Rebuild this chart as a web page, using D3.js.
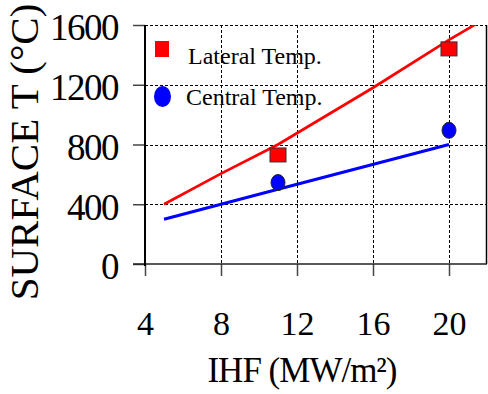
<script src='https://d3js.org/d3.v7.min.js'></script>
<style>
body {margin:0; background:#fff;}
text {font-family:'Liberation Serif','Times New Roman',serif; fill:#000;}
.grid line {stroke:#000; stroke-width:1; stroke-dasharray:3,2; shape-rendering:crispEdges;}
.tick line {stroke:#444; stroke-width:1.5;}
</style>
<body>
<svg id='chart' width='488' height='394'></svg>
<script>
var xTicks=[4,8,12,16,20], yTicks=[0,400,800,1200,1600];
var lateralX=[11,20], lateralY=[730,1440];
var centralX=[11,20], centralY=[545,895];
var lateralFitX=[5,8,11,16,20,21.8], lateralFitY=[400,605,800,1180,1500,1635];
var centralFitX=[5,11,20], centralFitY=[300,500,800];
var seriesNames=['Lateral Temp.','Central Temp.'];

var serif="'Liberation Serif','Times New Roman',serif";
var m={top:25,right:1,bottom:130,left:145};
var w=488-m.left-m.right, h=394-m.top-m.bottom;
var x=d3.scaleLinear().domain([4,22]).range([0,w]);
var y=d3.scaleLinear().domain([0,1600]).range([h,0]);
var svg=d3.select('#chart').append('g').attr('transform','translate('+m.left+','+m.top+')');

svg.append('defs').append('clipPath').attr('id','clip').append('rect').attr('width',w).attr('height',h);

// dashed grid
var grid=svg.append('g').attr('class','grid');
grid.selectAll('.gx').data(xTicks.slice(1)).enter().append('line')
    .attr('x1',function(d){return Math.round(x(d))+0.5}).attr('x2',function(d){return Math.round(x(d))+0.5})
    .attr('y1',0).attr('y2',h);
grid.selectAll('.gy').data(yTicks.slice(1)).enter().append('line')
    .attr('y1',function(d){return Math.round(y(d))+0.5}).attr('y2',function(d){return Math.round(y(d))+0.5})
    .attr('x1',0).attr('x2',w);

// frame: right solid
svg.append('line').attr('x1',w-0.5).attr('x2',w-0.5).attr('y1',0).attr('y2',h).attr('stroke','#000').attr('stroke-width',1.5);

// axes
var xAxis=svg.append('g').attr('class','tick').attr('transform','translate(0,'+h+')')
  .call(d3.axisBottom(x).tickValues(xTicks).tickFormat(d3.format('d')).tickSize(12).tickPadding(35));
xAxis.select('.domain').remove();
xAxis.selectAll('text').style('font-family',serif).style('font-size','34px').attr('fill','#000');
var yAxis=svg.append('g').attr('class','tick')
  .call(d3.axisLeft(y).tickValues(yTicks).tickFormat(d3.format('d')).tickSize(12).tickPadding(15));
yAxis.select('.domain').remove();
yAxis.selectAll('text').style('font-family',serif).style('font-size','37px').style('letter-spacing','-1.5px')
  .attr('fill','#000').attr('dy','0.4em');
svg.append('line').attr('x1',-12).attr('x2',w).attr('y1',h).attr('y2',h).attr('stroke','#222').attr('stroke-width',1.5);
svg.append('line').attr('x1',0).attr('x2',0).attr('y1',0).attr('y2',h+2).attr('stroke','#000').attr('stroke-width',2);

// fit lines
var line=d3.line().x(function(d){return x(d[0])}).y(function(d){return y(d[1])});
var plot=svg.append('g').attr('clip-path','url(#clip)');
plot.append('path').datum(d3.zip(lateralFitX,lateralFitY)).attr('d',line)
    .attr('fill','none').attr('stroke','#ff0000').attr('stroke-width',2.7);
plot.append('path').datum(d3.zip(centralFitX,centralFitY)).attr('d',line)
    .attr('fill','none').attr('stroke','#0000ff').attr('stroke-width',3);

// data markers
svg.selectAll('.sq').data(d3.zip(lateralX,lateralY)).enter().append('rect')
   .attr('x',function(d){return x(d[0])-8}).attr('y',function(d){return y(d[1])-7})
   .attr('width',16).attr('height',14).attr('fill','#ff0000').attr('stroke','#333').attr('stroke-width',1);
svg.selectAll('.ci').data(d3.zip(centralX,centralY)).enter().append('ellipse')
   .attr('cx',function(d){return x(d[0])}).attr('cy',function(d){return y(d[1])})
   .attr('rx',7).attr('ry',8).attr('fill','#0000ff').attr('stroke','#222').attr('stroke-width',1);

// legend
svg.append('rect').attr('x',10).attr('y',16).attr('width',14).attr('height',16).attr('fill','#ff0000');
svg.append('ellipse').attr('cx',17.5).attr('cy',71.5).attr('rx',8.5).attr('ry',10.5).attr('fill','#0000ff');
svg.append('text').attr('x',43).attr('y',39).style('font-size','24px').text(seriesNames[0]);
svg.append('text').attr('x',41).attr('y',80).style('font-size','24px').text(seriesNames[1]);

// titles
d3.select('#chart').append('text').attr('transform','translate(38,152) rotate(-90)')
  .attr('text-anchor','middle').style('font-size','41px').text('SURFACE T (°C)');
d3.select('#chart').append('text').attr('x',302).attr('y',382)
  .attr('text-anchor','middle').style('font-size','35px').style('letter-spacing','-1px').text('IHF (MW/m²)');
</script>
</body>
